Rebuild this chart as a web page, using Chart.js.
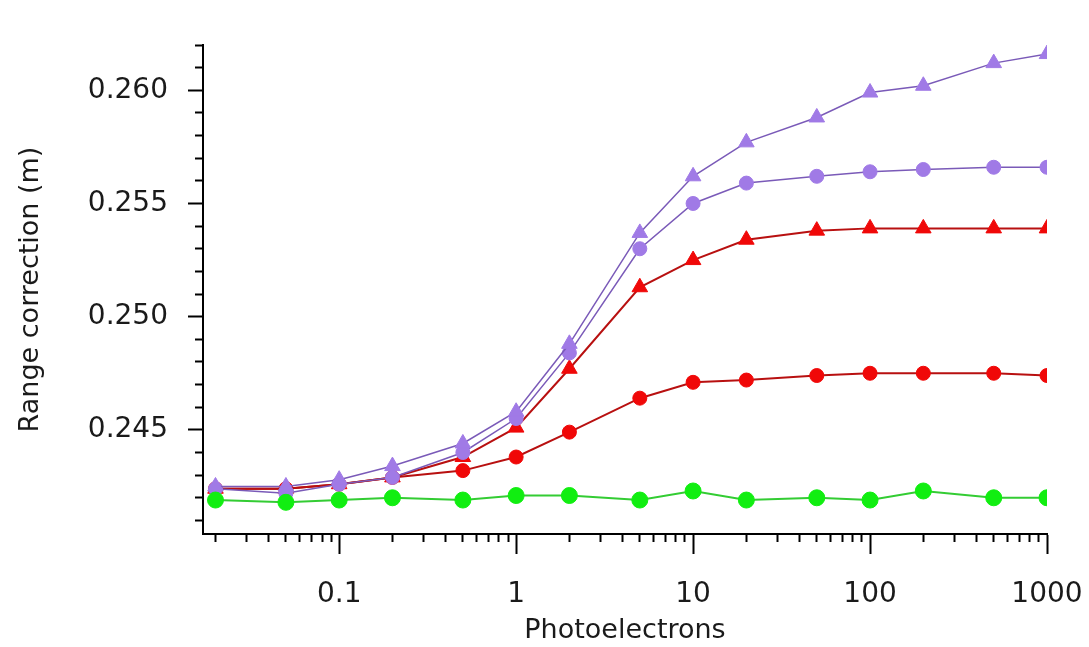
<!DOCTYPE html>
<html lang="en">
  <head>
    <meta charset="UTF-8" />
    <title>Range correction vs photoelectrons</title>
    <style>
      body {
        margin: 0;
        background: #ffffff;
      }
      #wrap {
        width: 1089px;
        height: 647px;
      }
    </style>
  </head>
  <body>
    <div id="wrap"><canvas id="grafico" width="1089" height="647"></canvas></div>

    <script src="https://cdn.jsdelivr.net/npm/chart.js"></script>
    <script>
      const photoelectrons = [0.02, 0.05, 0.1, 0.2, 0.5, 1, 2, 5, 10, 20, 50, 100, 200, 500, 1000];

      const greenCircles = [0.2419, 0.2418, 0.2419, 0.2420, 0.2419, 0.2421, 0.2421, 0.2419, 0.2423, 0.2419, 0.2420, 0.2419, 0.2423, 0.2420, 0.2420];
      const purpleTriangles = [0.2425, 0.2425, 0.2428, 0.2434, 0.2444, 0.2458, 0.2488, 0.2537, 0.2562, 0.2577, 0.2588, 0.2599, 0.2602, 0.2612, 0.2616];
      const purpleCircles = [0.2424, 0.2422, 0.2426, 0.2429, 0.2440, 0.2455, 0.2484, 0.2530, 0.2550, 0.2559, 0.2562, 0.2564, 0.2565, 0.2566, 0.2566];
      const redTriangles = [0.2424, 0.2424, 0.2426, 0.2429, 0.2438, 0.2451, 0.2477, 0.2513, 0.2525, 0.2534, 0.2538, 0.2539, 0.2539, 0.2539, 0.2539];
      const redCircles = [0.2424, 0.2424, 0.2426, 0.2429, 0.2432, 0.2438, 0.2449, 0.2464, 0.2471, 0.2472, 0.2474, 0.2475, 0.2475, 0.2475, 0.2474];

      const xMajorTicks = [0.1, 1, 10, 100, 1000];
      const xMinorTicks = [
        0.02, 0.03, 0.04, 0.05, 0.06, 0.07, 0.08, 0.09,
        0.2, 0.3, 0.4, 0.5, 0.6, 0.7, 0.8, 0.9,
        2, 3, 4, 5, 6, 7, 8, 9,
        20, 30, 40, 50, 60, 70, 80, 90,
        200, 300, 400, 500, 600, 700, 800, 900,
      ];
      const yMajorTicks = [0.245, 0.25, 0.255, 0.26];
      const yMinorTicks = [
        0.241, 0.242, 0.243, 0.244, 0.246, 0.247, 0.248, 0.249, 0.251, 0.252, 0.253,
        0.254, 0.256, 0.257, 0.258, 0.259, 0.261, 0.262,
      ];

      const fuenteTicks = { family: "'DejaVu Sans', sans-serif", size: 28 };
      const fuenteTitulo = { family: "'DejaVu Sans', sans-serif", size: 27 };
      const texto = "#1a1a1a";

      function puntos(valores) {
        return photoelectrons.map((x, i) => ({ x: x, y: valores[i] }));
      }

      function serie(valores, estilo, color, linea, radio, grosor) {
        return {
          data: puntos(valores),
          pointStyle: estilo,
          pointRadius: radio,
          pointBackgroundColor: color,
          pointBorderColor: color,
          pointBorderWidth: 1,
          borderColor: linea,
          borderWidth: grosor,
          tension: 0,
          fill: false,
        };
      }

      const contexto = document.getElementById("grafico").getContext("2d");
      const grafico = new Chart(contexto, {
        type: "line",
        data: {
          datasets: [
            serie(greenCircles, "circle", "#11ee11", "#33cc33", 8, 2),
            serie(purpleTriangles, "triangle", "#a07ae6", "#7a5ab8", 9, 1.5),
            serie(purpleCircles, "circle", "#a07ae6", "#7a5ab8", 7, 1.5),
            serie(redTriangles, "triangle", "#f00808", "#b81010", 9, 2),
            serie(redCircles, "circle", "#f00808", "#b81010", 7, 2),
          ],
        },
        options: {
          responsive: false,
          animation: false,
          layout: { padding: { left: 0, right: 42, top: 45, bottom: 0 } },
          plugins: {
            legend: { display: false },
            tooltip: { enabled: false },
          },
          scales: {
            x: {
              type: "logarithmic",
              position: "bottom",
              weight: 1,
              min: 0.017,
              max: 1000,
              afterBuildTicks: (s) => {
                s.ticks = xMajorTicks.map((v) => ({ value: v }));
              },
              afterFit: (s) => {
                s.height = 113;
                s.paddingLeft = 0;
                s.paddingRight = 0;
              },
              grid: { drawOnChartArea: false, tickLength: 20, tickWidth: 2, tickColor: "#000" },
              border: { display: true, color: "#000", width: 2 },
              ticks: {
                autoSkip: false,
                maxRotation: 0,
                padding: 24,
                color: texto,
                font: fuenteTicks,
                callback: (v) => String(v),
              },
              title: {
                display: true,
                text: "Photoelectrons",
                color: texto,
                font: fuenteTitulo,
                padding: { top: 0, bottom: 0 },
              },
            },
            xMinor: {
              type: "logarithmic",
              position: "bottom",
              weight: 0,
              min: 0.017,
              max: 1000,
              afterBuildTicks: (s) => {
                s.ticks = xMinorTicks.map((v) => ({ value: v }));
              },
              afterFit: (s) => {
                s.height = 0;
                s.paddingLeft = 0;
                s.paddingRight = 0;
              },
              grid: { drawOnChartArea: false, tickLength: 8, tickWidth: 2, tickColor: "#000" },
              border: { display: false },
              ticks: { display: false },
            },
            y: {
              type: "linear",
              position: "left",
              weight: 1,
              min: 0.2404,
              max: 0.262,
              afterBuildTicks: (s) => {
                s.ticks = yMajorTicks.map((v) => ({ value: v }));
              },
              afterFit: (s) => {
                s.width = 203;
                s.paddingTop = 0;
                s.paddingBottom = 0;
              },
              grid: { drawOnChartArea: false, tickLength: 15, tickWidth: 2, tickColor: "#000" },
              border: { display: true, color: "#000", width: 2 },
              ticks: {
                autoSkip: false,
                padding: 20,
                color: texto,
                font: fuenteTicks,
                callback: (v) => v.toFixed(3),
              },
              title: {
                display: true,
                text: "Range correction (m)",
                color: texto,
                font: fuenteTitulo,
                padding: { top: 15, bottom: 0 },
              },
            },
            yMinor: {
              type: "linear",
              position: "left",
              weight: 0,
              min: 0.2404,
              max: 0.262,
              afterBuildTicks: (s) => {
                s.ticks = yMinorTicks.map((v) => ({ value: v }));
              },
              afterFit: (s) => {
                s.width = 0;
              },
              grid: { drawOnChartArea: false, tickLength: 8, tickWidth: 2, tickColor: "#000" },
              border: { display: false },
              ticks: { display: false },
            },
          },
        },
      });
    </script>
  </body>
</html>
